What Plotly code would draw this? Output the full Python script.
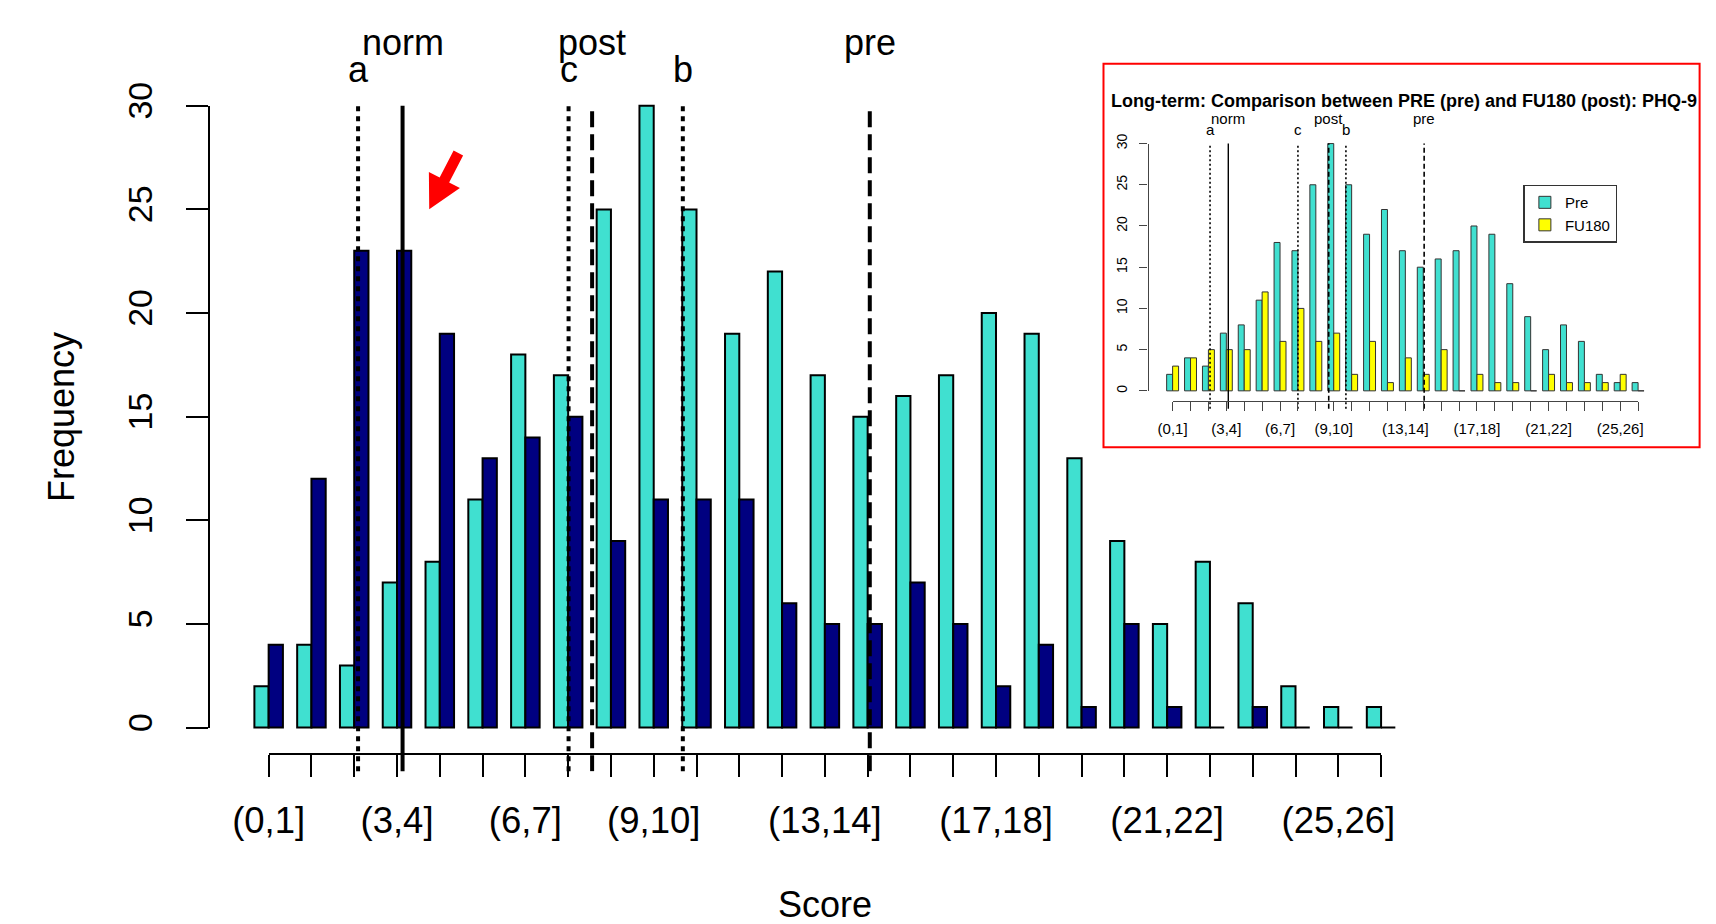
import math
import plotly.graph_objects as go

# ---------------- data ----------------
categories = ["(0,1]", "(1,2]", "(2,3]", "(3,4]", "(4,5]", "(5,6]", "(6,7]", "(7,8]", "(8,9]",
              "(9,10]", "(10,11]", "(11,12]", "(12,13]", "(13,14]", "(14,15]", "(15,16]",
              "(16,17]", "(17,18]", "(18,19]", "(19,20]", "(20,21]", "(21,22]", "(22,23]",
              "(23,24]", "(24,25]", "(25,26]", "(26,27]"]
shown_labels = ["(0,1]", "(3,4]", "(6,7]", "(9,10]", "(13,14]", "(17,18]", "(21,22]", "(25,26]"]

pre_counts = [2, 4, 3, 7, 8, 11, 18, 17, 25, 30, 25, 19, 22, 17, 15, 16, 17, 20, 19, 13, 9, 5, 8, 6, 2, 1, 1]
post_counts = [4, 12, 23, 23, 19, 13, 14, 15, 9, 11, 11, 11, 6, 5, 5, 7, 5, 2, 4, 1, 5, 1, 0, 1, 0, 0, 0]
fu180_counts = [3, 4, 5, 5, 5, 12, 6, 10, 6, 7, 2, 6, 1, 4, 2, 5, 0, 2, 1, 1, 0, 2, 1, 1, 1, 2, 0]

y_ticks = [0, 5, 10, 15, 20, 25, 30]

# reference markers (positions in bin units, 0 = centre of first bin)
marker_names = ["a", "norm", "c", "post", "b", "pre"]
main_marker_pos = [2.09, 3.13, 7.01, 7.56, 9.68, 14.05]
inset_marker_pos = [2.09, 3.11, 7.00, 8.72, 9.68, 14.05]
marker_dash = ["dot", "solid", "dot", "dash", "dot", "dash"]
marker_row = [1, 0, 1, 0, 1, 0]   # 0 = upper label row, 1 = lower

inset_title = "Long-term: Comparison between PRE (pre) and FU180 (post): PHQ-9"

# ---------------- geometry (pixels) ----------------
W, H = 1716, 924
FONT = "Liberation Sans, Arial, Helvetica, sans-serif"
TURQ, NAVY, YEL = "#40E0D0", "#000080", "#FFFF00"


def px(x):
    return x / W


def py(y):
    return 1 - y / H


# main panel
MX0, MDX = 238.6, 44.07      # pixel of first bin centre, pixels per bin
MY0, MDY = 725.6, 21.377     # pixel of value 0, pixels per count
M_AX_X = 176.9               # y-axis line
M_AX_Y = 752.5               # x-axis line
M_DOM_X = (150, 1460)
M_DOM_Y = (790, 55)

# inset panel
IX0, IDX = 1169.7, 18.44
IY0, IDY = 378.3, 8.5
I_AX_X = 1143.9
I_AX_Y = 388.3
I_DOM_X = (1100, 1708)
I_DOM_Y = (405, 115)

n = len(categories)
idx = list(range(n))
tickvals = idx
ticktext = [c if c in shown_labels else "" for c in categories]

fig = go.Figure()

# ---- main bars ----
fig.add_trace(go.Bar(x=idx, y=pre_counts, name="Pre", marker=dict(color=TURQ, line=dict(color="black", width=2)),
                     xaxis="x", yaxis="y", showlegend=False))
fig.add_trace(go.Bar(x=idx, y=post_counts, name="Post", marker=dict(color=NAVY, line=dict(color="black", width=2)),
                     xaxis="x", yaxis="y", showlegend=False))

# ---- inset bars ----
fig.add_trace(go.Bar(x=idx, y=pre_counts, name="Pre", marker=dict(color=TURQ, line=dict(color="#333333", width=1)),
                     xaxis="x3", yaxis="y3", showlegend=True))
fig.add_trace(go.Bar(x=idx, y=fu180_counts, name="FU180", marker=dict(color=YEL, line=dict(color="#333333", width=1)),
                     xaxis="x3", yaxis="y3", showlegend=True))

# ---- marker lines ----
main_dash_px = {"dot": "5px,5px", "dash": "16px,7px", "solid": "solid"}
inset_dash_px = {"dot": "2px,2.5px", "dash": "5px,3px", "solid": "solid"}
for name, pos, d in zip(marker_names, main_marker_pos, marker_dash):
    fig.add_trace(go.Scatter(x=[pos, pos], y=[-2.1, 30], mode="lines", xaxis="x", yaxis="y",
                             line=dict(color="black", width=4, dash=main_dash_px[d]),
                             showlegend=False, hoverinfo="skip"))
for name, pos, d in zip(marker_names, inset_marker_pos, marker_dash):
    fig.add_trace(go.Scatter(x=[pos, pos], y=[-2.16, 30], mode="lines", xaxis="x3", yaxis="y3",
                             line=dict(color="black", width=1.6 if d != "solid" else 1.4, dash=inset_dash_px[d]),
                             showlegend=False, hoverinfo="skip"))

# ---- invisible traces that carry the R-style axes ----
fig.add_trace(go.Scatter(x=[0, n - 1], y=[0, 30], mode="markers", marker=dict(opacity=0),
                         xaxis="x2", yaxis="y2", showlegend=False, hoverinfo="skip"))
fig.add_trace(go.Scatter(x=[0, n - 1], y=[0, 30], mode="markers", marker=dict(opacity=0),
                         xaxis="x4", yaxis="y4", showlegend=False, hoverinfo="skip"))

hidden = dict(showline=False, showgrid=False, zeroline=False, showticklabels=False, ticks="")

layout = dict(
    width=W, height=H,
    margin=dict(l=0, r=0, t=0, b=0),
    paper_bgcolor="white", plot_bgcolor="rgba(0,0,0,0)",
    font=dict(family=FONT, color="black"),
    barmode="group", bargap=1 / 3, bargroupgap=0,
    xaxis=dict(domain=[px(M_DOM_X[0]), px(M_DOM_X[1])],
               range=[(M_DOM_X[0] - MX0) / MDX, (M_DOM_X[1] - MX0) / MDX], anchor="y", **hidden),
    yaxis=dict(domain=[py(M_DOM_Y[0]), py(M_DOM_Y[1])],
               range=[(MY0 - M_DOM_Y[0]) / MDY, (MY0 - M_DOM_Y[1]) / MDY], anchor="x", **hidden),
    xaxis3=dict(domain=[px(I_DOM_X[0]), px(I_DOM_X[1])],
                range=[(I_DOM_X[0] - IX0) / IDX, (I_DOM_X[1] - IX0) / IDX], anchor="y3", **hidden),
    yaxis3=dict(domain=[py(I_DOM_Y[0]), py(I_DOM_Y[1])],
                range=[(IY0 - I_DOM_Y[0]) / IDY, (IY0 - I_DOM_Y[1]) / IDY], anchor="x3", **hidden),
    xaxis2=dict(domain=[px(MX0), px(MX0 + (n - 1) * MDX)], range=[0, n - 1], anchor="free", position=py(M_AX_Y),
                showline=True, linecolor="black", linewidth=2, showgrid=False, zeroline=False,
                ticks="outside", ticklen=22, tickwidth=2, tickcolor="black",
                tickmode="array", tickvals=tickvals, ticktext=ticktext,
                tickfont=dict(size=36.5, family=FONT, color="black"), ticklabelstandoff=13),
    yaxis2=dict(domain=[py(MY0), py(MY0 - 30 * MDY)], range=[0, 30], anchor="free", position=px(M_AX_X),
                showline=True, linecolor="black", linewidth=2, showgrid=False, zeroline=False,
                ticks="outside", ticklen=22, tickwidth=2, tickcolor="black",
                tickmode="array", tickvals=y_ticks, tickangle=-90,
                tickfont=dict(size=34, family=FONT, color="black"), ticklabelstandoff=20),
    xaxis4=dict(domain=[px(IX0), px(IX0 + (n - 1) * IDX)], range=[0, n - 1], anchor="free", position=py(I_AX_Y),
                showline=True, linecolor="#444444", linewidth=1.2, showgrid=False, zeroline=False,
                ticks="outside", ticklen=9, tickwidth=1.2, tickcolor="#444444",
                tickmode="array", tickvals=tickvals, ticktext=ticktext,
                tickfont=dict(size=15, family=FONT, color="black"), ticklabelstandoff=5),
    yaxis4=dict(domain=[py(IY0), py(IY0 - 30 * IDY)], range=[0, 30], anchor="free", position=px(I_AX_X),
                showline=True, linecolor="#444444", linewidth=1.2, showgrid=False, zeroline=False,
                ticks="outside", ticklen=8, tickwidth=1.2, tickcolor="#444444",
                tickmode="array", tickvals=y_ticks, tickangle=-90,
                tickfont=dict(size=14, family=FONT, color="black"), ticklabelstandoff=7),
    legend=dict(x=px(1531), y=py(165.6), xanchor="left", yanchor="top",
                bgcolor="white", bordercolor="#333333", borderwidth=1.5,
                font=dict(size=15, family=FONT, color="black"), tracegroupgap=0),
    showlegend=True,
)
fig.update_layout(**layout)

annotations = []
# marker labels, main and inset
for name, pos, row in zip(marker_names, main_marker_pos, marker_row):
    annotations.append(dict(x=pos, xref="x", y=py(19 if row == 0 else 47), yref="paper", text=name,
                            showarrow=False, xanchor="center", yanchor="middle",
                            font=dict(size=36, family=FONT, color="black")))
for name, pos, row in zip(marker_names, inset_marker_pos, marker_row):
    annotations.append(dict(x=pos, xref="x3", y=py(97.3 if row == 0 else 109), yref="paper", text=name,
                            showarrow=False, xanchor="center", yanchor="middle",
                            font=dict(size=15, family=FONT, color="black")))
# axis titles
annotations.append(dict(x=px(811.5), y=py(908), xref="paper", yref="paper", text="Score", showarrow=False,
                        xanchor="center", yanchor="middle", font=dict(size=36, family=FONT, color="black")))
annotations.append(dict(x=px(25), y=py(405), xref="paper", yref="paper", text="Frequency", showarrow=False,
                        textangle=-90, xanchor="center", yanchor="middle",
                        font=dict(size=36, family=FONT, color="black")))
# inset title
annotations.append(dict(x=px(1408.5), y=py(79.3), xref="paper", yref="paper", text="<b>" + inset_title + "</b>",
                        showarrow=False, xanchor="center", yanchor="middle",
                        font=dict(size=18, family=FONT, color="black")))
fig.update_layout(annotations=annotations)

# red arrow (decoration) as a filled polygon
tail = (434.0, 133.0)
tip = (404.0, 191.0)
dx, dy = tip[0] - tail[0], tip[1] - tail[1]
L = math.hypot(dx, dy)
ux, uy = dx / L, dy / L
nx, ny = -uy, ux
head_len, head_half, shaft_half = 34.0, 18.0, 5.5
bx, by = tip[0] - head_len * ux, tip[1] - head_len * uy
pts = [(tail[0] + shaft_half * nx, tail[1] + shaft_half * ny),
       (bx + shaft_half * nx, by + shaft_half * ny),
       (bx + head_half * nx, by + head_half * ny),
       tip,
       (bx - head_half * nx, by - head_half * ny),
       (bx - shaft_half * nx, by - shaft_half * ny),
       (tail[0] - shaft_half * nx, tail[1] - shaft_half * ny)]
path = "M " + " L ".join(f"{px(a):.5f},{py(b):.5f}" for a, b in pts) + " Z"

shapes = [
    dict(type="path", path=path, xref="paper", yref="paper", fillcolor="red", line=dict(width=0), layer="above"),
    dict(type="rect", xref="paper", yref="paper", x0=px(1098.5), x1=px(1712.5), y0=py(436.5), y1=py(41),
         line=dict(color="red", width=2), fillcolor="rgba(0,0,0,0)", layer="above"),
]
fig.update_layout(shapes=shapes)

fig.write_html("out.html", config={"displayModeBar": False},
               post_script="document.body.style.margin='0';document.body.style.overflow='hidden';")
